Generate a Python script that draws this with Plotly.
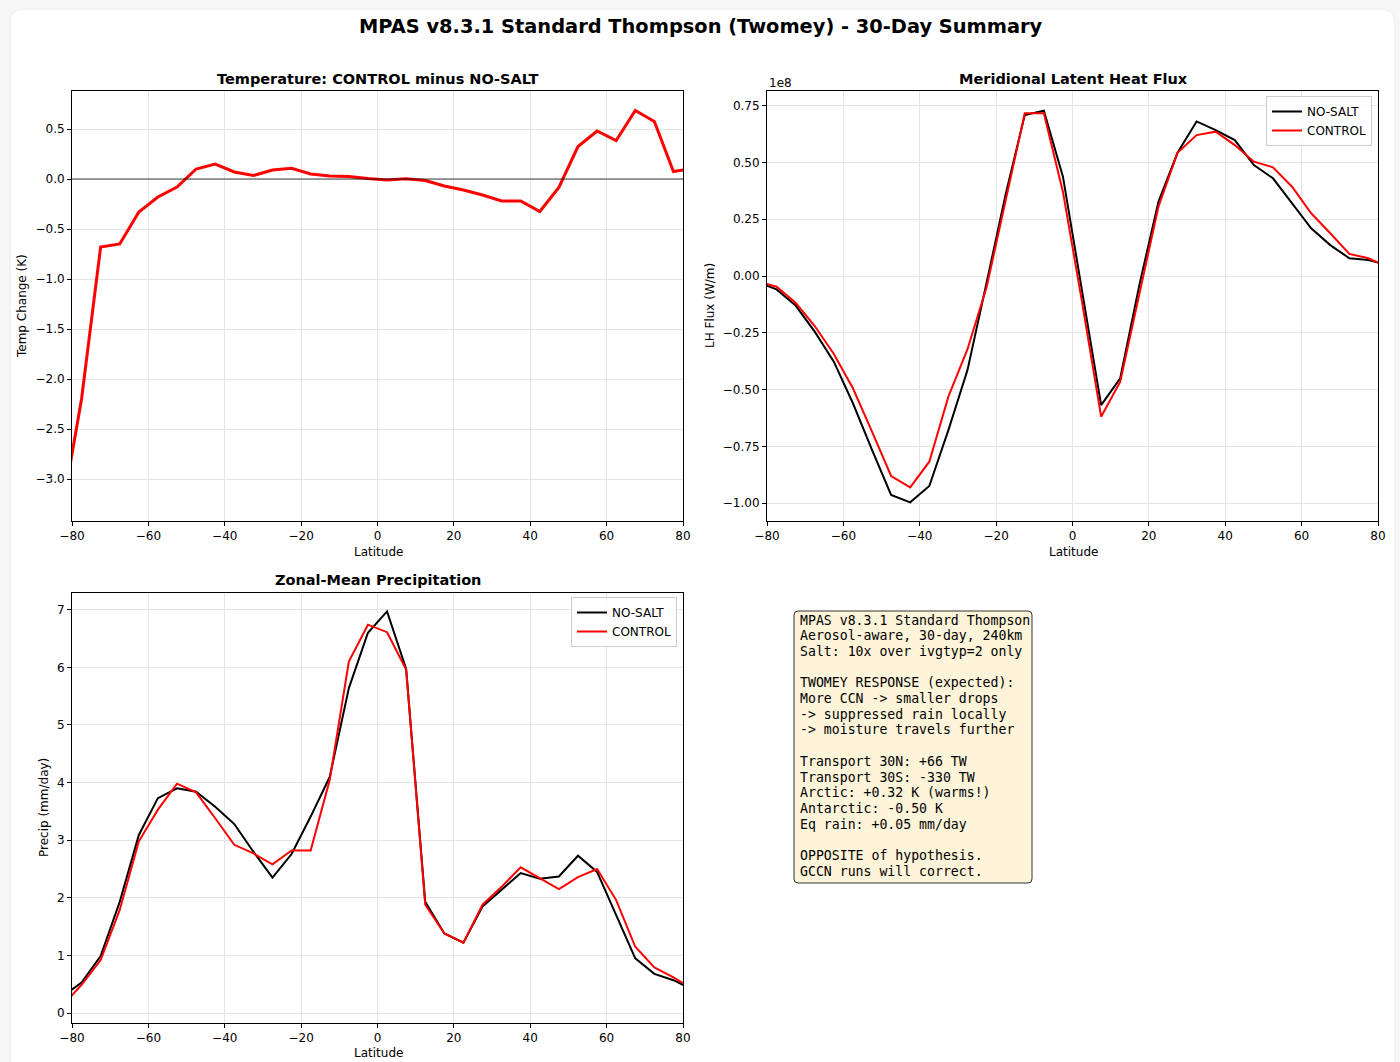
import numpy as np
import plotly.graph_objects as go

# Figure size in pixels
W, H = 1400, 1062

# 5-degree zonal-mean bins (centres); the axes show -80..80
lat = np.arange(-82.5, 83.0, 5.0)

# Zonal-mean 2 m temperature difference, CONTROL minus NO-SALT (K)
temp_diff = [-3.30, -2.20, -0.68, -0.65, -0.33, -0.18, -0.08, 0.10, 0.15, 0.07,
             0.035, 0.09, 0.107, 0.05, 0.03, 0.025, 0.005, -0.01, 0.003, -0.015,
             -0.07, -0.11, -0.16, -0.22, -0.22, -0.325, -0.085, 0.325, 0.48, 0.385,
             0.685, 0.575, 0.075, 0.105]

# Meridional latent heat flux (W/m)
lh_nosalt = np.array([-0.027, -0.059, -0.130, -0.245, -0.377, -0.560, -0.765, -0.963, -0.996, -0.924,
                      -0.678, -0.414, -0.030, 0.360, 0.708, 0.727, 0.437, -0.070, -0.568, -0.450,
                      -0.040, 0.327, 0.542, 0.680, 0.642, 0.598, 0.488, 0.430, 0.320, 0.210,
                      0.136, 0.078, 0.070, 0.048]) * 1e8
lh_control = np.array([-0.023, -0.047, -0.118, -0.220, -0.343, -0.494, -0.685, -0.880, -0.930, -0.817,
                       -0.531, -0.322, -0.050, 0.330, 0.716, 0.716, 0.370, -0.115, -0.619, -0.465,
                       -0.075, 0.305, 0.542, 0.620, 0.635, 0.576, 0.503, 0.478, 0.393, 0.276,
                       0.188, 0.097, 0.078, 0.040]) * 1e8
LH_SCALE = 1e8

# Zonal-mean precipitation (mm/day)
precip_nosalt = [0.29, 0.53, 0.99, 1.93, 3.09, 3.73, 3.90, 3.84, 3.58, 3.28,
                 2.80, 2.35, 2.76, 3.41, 4.10, 5.64, 6.60, 6.97, 5.97, 1.93,
                 1.38, 1.22, 1.85, 2.14, 2.43, 2.33, 2.37, 2.73, 2.45, 1.70,
                 0.95, 0.68, 0.57, 0.41]
precip_control = [0.13, 0.49, 0.92, 1.79, 2.98, 3.53, 3.98, 3.83, 3.38, 2.92,
                  2.77, 2.58, 2.82, 2.82, 4.05, 6.10, 6.74, 6.61, 5.96, 1.88,
                  1.38, 1.22, 1.88, 2.19, 2.53, 2.34, 2.15, 2.36, 2.50, 1.96,
                  1.15, 0.79, 0.62, 0.42]

lat_ticks = [-80, -60, -40, -20, 0, 20, 40, 60, 80]

summary_lines = [
    "MPAS v8.3.1 Standard Thompson",
    "Aerosol-aware, 30-day, 240km",
    "Salt: 10x over ivgtyp=2 only",
    "",
    "TWOMEY RESPONSE (expected):",
    "More CCN -> smaller drops",
    "-> suppressed rain locally",
    "-> moisture travels further",
    "",
    "Transport 30N: +66 TW",
    "Transport 30S: -330 TW",
    "Arctic: +0.32 K (warms!)",
    "Antarctic: -0.50 K",
    "Eq rain: +0.05 mm/day",
    "",
    "OPPOSITE of hypothesis.",
    "GCCN runs will correct.",
]

FONT = "DejaVu Sans"
MONO = "DejaVu Sans Mono"


def px_x(x):
    return x / W


def px_y(y):
    return 1 - y / H


def rounded_rect(x0, y0, x1, y1, r):
    """SVG path (paper units) of a rounded rectangle given in pixels."""
    def P(x, y):
        return f"{px_x(x):.6f},{px_y(y):.6f}"
    parts = [
        f"M {P(x0 + r, y0)}", f"L {P(x1 - r, y0)}", f"Q {P(x1, y0)} {P(x1, y0 + r)}",
        f"L {P(x1, y1 - r)}", f"Q {P(x1, y1)} {P(x1 - r, y1)}",
        f"L {P(x0 + r, y1)}", f"Q {P(x0, y1)} {P(x0, y1 - r)}",
        f"L {P(x0, y0 + r)}", f"Q {P(x0, y0)} {P(x0 + r, y0)}", "Z",
    ]
    return " ".join(parts)


# Axes rectangles in pixels: (left, top, right, bottom)
ax_temp = (72, 91, 683, 521)
ax_lh = (767, 91, 1378, 521)
ax_pr = (72, 593, 683, 1023)

fig = go.Figure()

fig.add_trace(go.Scatter(x=lat, y=temp_diff, mode="lines",
                         line=dict(color="red", width=3),
                         showlegend=False, xaxis="x", yaxis="y"))

fig.add_trace(go.Scatter(x=lat, y=lh_nosalt / LH_SCALE, mode="lines", name="NO-SALT",
                         line=dict(color="black", width=2),
                         legend="legend", xaxis="x2", yaxis="y2"))
fig.add_trace(go.Scatter(x=lat, y=lh_control / LH_SCALE, mode="lines", name="CONTROL",
                         line=dict(color="red", width=2),
                         legend="legend", xaxis="x2", yaxis="y2"))

fig.add_trace(go.Scatter(x=lat, y=precip_nosalt, mode="lines", name="NO-SALT",
                         line=dict(color="black", width=2),
                         legend="legend2", xaxis="x3", yaxis="y3"))
fig.add_trace(go.Scatter(x=lat, y=precip_control, mode="lines", name="CONTROL",
                         line=dict(color="red", width=2),
                         legend="legend2", xaxis="x3", yaxis="y3"))

axis_common = dict(
    showline=True, linecolor="black", linewidth=1, mirror=True,
    ticks="outside", ticklen=4, tickwidth=1, tickcolor="black",
    showgrid=True, gridcolor="#e4e4e4", gridwidth=1,
    zeroline=False, automargin=False,
    tickfont=dict(family=FONT, size=12, color="black"),
)


def xdom(ax):
    return [px_x(ax[0]), px_x(ax[2])]


def ydom(ax):
    return [px_y(ax[3]), px_y(ax[1])]


layout_axes = dict(
    xaxis=dict(domain=xdom(ax_temp), anchor="y", range=[-80, 80],
               tickvals=lat_ticks, **axis_common),
    yaxis=dict(domain=ydom(ax_temp), anchor="x", range=[-3.42, 0.88],
               dtick=0.5, tick0=0, tickformat=".1f", **axis_common),
    xaxis2=dict(domain=xdom(ax_lh), anchor="y2", range=[-80, 80],
                tickvals=lat_ticks, **axis_common),
    yaxis2=dict(domain=ydom(ax_lh), anchor="x2", range=[-1.078, 0.814],
                dtick=0.25, tick0=0, tickformat=".2f", **axis_common),
    xaxis3=dict(domain=xdom(ax_pr), anchor="y3", range=[-80, 80],
                tickvals=lat_ticks, **axis_common),
    yaxis3=dict(domain=ydom(ax_pr), anchor="x3", range=[-0.173, 7.29],
                dtick=1, tick0=0, **axis_common),
)

annotations = []


def text(x, y, s, size=12, bold=False, xanchor="center", yanchor="middle",
         angle=0, family=FONT):
    annotations.append(dict(
        x=px_x(x), y=px_y(y), xref="paper", yref="paper",
        text=f"<b>{s}</b>" if bold else s, showarrow=False,
        xanchor=xanchor, yanchor=yanchor, textangle=angle,
        font=dict(family=family, size=size, color="black"),
    ))


# Titles
text(701, 26, "MPAS v8.3.1 Standard Thompson (Twomey) - 30-Day Summary", size=19.4, bold=True)
text(378, 79, "Temperature: CONTROL minus NO-SALT", size=14.5, bold=True)
text(1073, 79, "Meridional Latent Heat Flux", size=14.5, bold=True)
text(378, 580, "Zonal-Mean Precipitation", size=14.5, bold=True)

# Axis labels
text(378, 552, "Latitude")
text(1073, 552, "Latitude")
text(378, 1053, "Latitude")
text(22, 306, "Temp Change (K)", angle=-90)
text(710, 306, "LH Flux (W/m)", angle=-90)
text(44, 808, "Precip (mm/day)", angle=-90)
text(767, 83, "1e8", xanchor="left")

# Summary text box, one annotation per line
for i, line in enumerate(summary_lines):
    if line:
        text(798, 620 + i * 15.7, line, size=13.2, xanchor="left", family=MONO)

shapes = [
    # page card
    dict(type="path", xref="paper", yref="paper", layer="below",
         path=rounded_rect(10, 9, 1395, 1090, 14),
         fillcolor="white", line=dict(color="#ebebeb", width=1)),
    # zero reference line on the temperature panel
    dict(type="line", xref="x", yref="y", x0=-80, x1=80, y0=0, y1=0,
         line=dict(color="rgba(0,0,0,0.75)", width=1), layer="above"),
    # summary box
    dict(type="path", xref="paper", yref="paper", layer="below",
         path=rounded_rect(794, 611, 1032, 883, 4),
         fillcolor="#fdf4d9", line=dict(color="#333333", width=1)),
]

legend_style = dict(
    bgcolor="rgba(255,255,255,0.85)", bordercolor="#cccccc", borderwidth=1,
    font=dict(family=FONT, size=12, color="black"),
    xanchor="right", yanchor="top", tracegroupgap=0, itemwidth=30,
)

fig.update_layout(
    width=W, height=H,
    margin=dict(l=0, r=0, t=0, b=0, pad=0, autoexpand=False),
    paper_bgcolor="#f7f7f7",
    plot_bgcolor="white",
    font=dict(family=FONT, size=12, color="black"),
    annotations=annotations,
    shapes=shapes,
    legend=dict(x=px_x(1372), y=px_y(96), **legend_style),
    legend2=dict(x=px_x(677), y=px_y(597), **legend_style),
    **layout_axes,
)

fig.write_html("out.html")
